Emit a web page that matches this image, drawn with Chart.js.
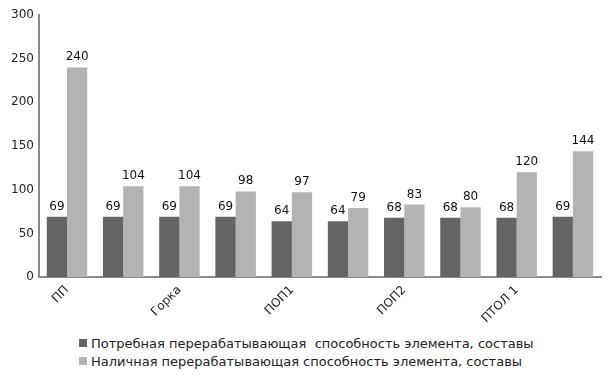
<!DOCTYPE html>
<html>
<head>
<meta charset="utf-8">
<script src="https://cdn.jsdelivr.net/npm/chart.js@4.4.1/dist/chart.umd.min.js"></script>
<style>
  body { margin: 0; background: #fff; font-family: "DejaVu Sans", sans-serif; }
  #wrap { position: relative; width: 613px; height: 380px; }
  #chart-box { position: absolute; left: 0; top: 0; width: 613px; height: 332px; }
  #legend { position: absolute; left: 79px; top: 334px; font-size: 13px; color: #222; }
  .legend-item { display: flex; align-items: center; height: 18px; white-space: pre; }
  .legend-item .sw { width: 8px; height: 8px; margin-right: 4px; }
</style>
</head>
<body>
<div id="wrap">
  <div id="chart-box"><canvas id="chart"></canvas></div>
  <div id="legend"></div>
</div>
<script>
const categories = ["ПП", "", "Горка", "", "ПОП1", "", "ПОП2", "", "ПТОЛ 1", ""];
const required = [69, 69, 69, 69, 64, 64, 68, 68, 68, 69];
const available = [240, 104, 104, 98, 97, 79, 83, 80, 120, 144];
const seriesNames = [
  "Потребная перерабатывающая  способность элемента, составы",
  "Наличная перерабатывающая способность элемента, составы"
];
const seriesColors = ["#646464", "#b3b3b3"];

// подписи значений над столбцами
const valueLabels = {
  id: "valueLabels",
  afterDatasetsDraw(chart) {
    const ctx = chart.ctx;
    ctx.save();
    ctx.font = "12px 'DejaVu Sans'";
    ctx.fillStyle = "#111";
    ctx.textAlign = "center";
    ctx.textBaseline = "alphabetic";
    chart.data.datasets.forEach((ds, i) => {
      chart.getDatasetMeta(i).data.forEach((bar, j) => {
        ctx.fillText(ds.data[j], bar.x, bar.y - 7);
      });
    });
    ctx.restore();
  }
};

const ctx = document.getElementById("chart").getContext("2d");
new Chart(ctx, {
  type: "bar",
  data: {
    labels: categories,
    datasets: [
      { label: seriesNames[0], data: required, backgroundColor: seriesColors[0] },
      { label: seriesNames[1], data: available, backgroundColor: seriesColors[1] }
    ]
  },
  options: {
    responsive: true,
    maintainAspectRatio: false,
    animation: false,
    layout: { padding: { top: 15, left: 6, right: 12, bottom: 0 } },
    datasets: { bar: { categoryPercentage: 0.72, barPercentage: 1.0 } },
    plugins: { legend: { display: false }, tooltip: { enabled: false } },
    scales: {
      x: {
        grid: { display: false, drawTicks: false },
        border: { display: true, color: "#898989", width: 2 },
        ticks: {
          autoSkip: false,
          minRotation: 45,
          maxRotation: 45,
          padding: 6,
          color: "#222",
          font: { family: "DejaVu Sans", size: 12 }
        }
      },
      y: {
        min: 0,
        max: 300,
        grid: { display: false, drawTicks: false },
        border: { display: true, color: "#898989", width: 2 },
        ticks: {
          stepSize: 50,
          padding: 5,
          color: "#222",
          font: { family: "DejaVu Sans", size: 12 }
        }
      }
    }
  },
  plugins: [valueLabels]
});

const legendEl = document.getElementById("legend");
seriesNames.forEach((name, i) => {
  const item = document.createElement("div");
  item.className = "legend-item";
  item.innerHTML = `<span class="sw" style="background:${seriesColors[i]}"></span>${name}`;
  legendEl.appendChild(item);
});
</script>
</body>
</html>
